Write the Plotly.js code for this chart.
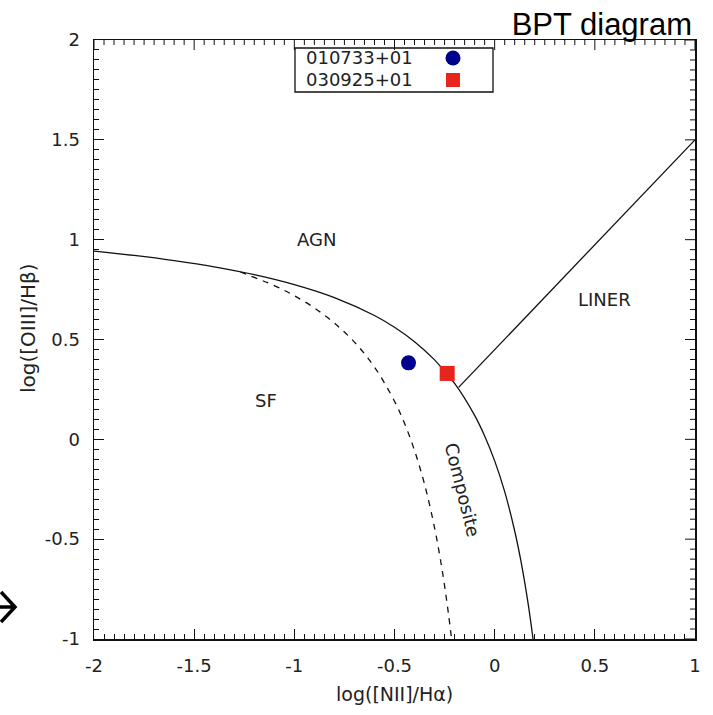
<!DOCTYPE html>
<html>
<head>
<meta charset="utf-8">
<script src="https://cdn.plot.ly/plotly-3.0.1.min.js"></script>
<style>html,body{margin:0;padding:0;background:#fff;}</style>
</head>
<body>
<div id="chart" style="width:713px;height:715px;"></div>
<script>
// ---- data ----
// Kewley-type maximum starburst line (solid)
const kewleyX = [-2.0, -1.8, -1.6, -1.4, -1.2, -1.0, -0.8, -0.6, -0.5, -0.4, -0.3, -0.2, -0.1, -0.05, 0.0, 0.05, 0.1, 0.13, 0.16, 0.18, 0.19, 0.192];
const kewleyY = [0.943, 0.921, 0.895, 0.864, 0.825, 0.775, 0.710, 0.620, 0.561, 0.489, 0.398, 0.280, 0.120, 0.017, -0.108, -0.262, -0.459, -0.604, -0.778, -0.913, -0.989, -1.004];
// Kauffmann-type line (dashed)
const kauffX = [-1.27, -1.1, -1.0, -0.9, -0.8, -0.7, -0.6, -0.5, -0.45, -0.4, -0.35, -0.3, -0.26, -0.23, -0.215];
const kauffY = [0.838, 0.770, 0.719, 0.658, 0.582, 0.487, 0.362, 0.191, 0.080, -0.056, -0.225, -0.443, -0.668, -0.879, -1.002];
// LINER / Seyfert dividing line
const linerX = [-0.18, 1.0];
const linerY = [0.26, 1.5];
// objects
const objNames = ['010733+01', '030925+01'];
const objX = [-0.43, -0.237];
const objY = [0.383, 0.33];
// region labels
const regionText = ['AGN', 'SF', 'LINER', 'Composite'];
const regionX = [-0.89, -1.14, 0.55, -0.16];
const regionY = [1.0, 0.195, 0.70, -0.25];
// ticks
const xTickVals = [-2, -1.5, -1, -0.5, 0, 0.5, 1];
const xTickText = ['-2', '-1.5', '-1', '-0.5', '0', '0.5', '1'];
const yTickVals = [-1, -0.5, 0, 0.5, 1, 1.5, 2];
const yTickText = ['-1', '-0.5', '0', '0.5', '1', '1.5', '2'];
const xRange = [-2, 1];
const yRange = [-1, 2];
const xTitle = 'log([NII]/Hα)';
const yTitle = 'log([OIII]/Hβ)';

// ---- layout geometry helpers ----
const W = 713, H = 715, ML = 94, MR = 18, MT = 40, MB = 76;
const PW = W - ML - MR, PH = H - MT - MB;
const px = v => (v - ML) / PW;         // pixel x -> paper x
const py = v => (H - MB - v) / PH;     // pixel y -> paper y

const FONT = 'DejaVu Sans';
const colors = ['#00008e', '#e8251b'];
const symbols = ['circle', 'square'];

const traces = [
  {x: kewleyX, y: kewleyY, mode: 'lines', line: {color: '#111', width: 1.3, shape: 'spline'}, showlegend: false, hoverinfo: 'skip'},
  {x: kauffX, y: kauffY, mode: 'lines', line: {color: '#111', width: 1.3, dash: '6px,6px', shape: 'spline'}, showlegend: false, hoverinfo: 'skip'},
  {x: linerX, y: linerY, mode: 'lines', line: {color: '#111', width: 1.3}, showlegend: false, hoverinfo: 'skip'}
];
objNames.forEach((n, i) => {
  traces.push({x: [objX[i]], y: [objY[i]], name: n, mode: 'markers',
    marker: {color: colors[i], size: 15, symbol: symbols[i]}, showlegend: false, cliponaxis: false});
});

const annotations = regionText.map((t, i) => ({
  x: regionX[i], y: regionY[i], xref: 'x', yref: 'y', text: t, showarrow: false,
  textangle: t === 'Composite' ? 76 : 0,
  font: {family: FONT, size: 18, color: '#222'}
}));
// axis titles
annotations.push({xref: 'paper', yref: 'paper', x: px(394), y: py(694), xanchor: 'center', yanchor: 'middle',
  text: xTitle, showarrow: false, font: {family: FONT, size: 19, color: '#222'}});
annotations.push({xref: 'paper', yref: 'paper', x: px(28), y: py(328), xanchor: 'center', yanchor: 'middle',
  text: yTitle, textangle: -90, showarrow: false, font: {family: FONT, size: 20, color: '#222'}});

// manual legend (text left, symbol right)
const legRows = [58, 80];
objNames.forEach((n, i) => {
  annotations.push({xref: 'paper', yref: 'paper', x: px(304), y: py(legRows[i]), xanchor: 'left', yanchor: 'middle',
    text: n, showarrow: false, font: {family: FONT, size: 18, color: '#222'}});
});

const shapes = [
  {type: 'rect', xref: 'paper', yref: 'paper', x0: px(295), x1: px(493), y0: py(92), y1: py(48),
   line: {color: '#111', width: 1.3}, fillcolor: '#fff', layer: 'above'},
  {type: 'circle', xref: 'paper', yref: 'paper', xsizemode: 'pixel', ysizemode: 'pixel',
   xanchor: px(453), yanchor: py(legRows[0]), x0: -7.5, x1: 7.5, y0: -7.5, y1: 7.5,
   fillcolor: colors[0], line: {width: 0}, layer: 'above'},
  {type: 'rect', xref: 'paper', yref: 'paper', xsizemode: 'pixel', ysizemode: 'pixel',
   xanchor: px(453), yanchor: py(legRows[1]), x0: -7, x1: 7, y0: -7, y1: 7,
   fillcolor: colors[1], line: {width: 0}, layer: 'above'},
  // arrow glyph cut at the left edge
  {type: 'path', xref: 'paper', yref: 'paper', layer: 'above',
   path: 'M ' + px(-5) + ' ' + py(607) + ' L ' + px(13) + ' ' + py(607) +
         ' M ' + px(1) + ' ' + py(592) + ' L ' + px(15) + ' ' + py(607) + ' L ' + px(1) + ' ' + py(622),
   line: {color: '#000', width: 3.5}}
];

// mirrored tick marks on the top and right frame edges (placed through the axis scales)
for (let i = 0; i <= 60; i++) {
  const len = (i % 10 === 0) ? 10 : 5;
  const xv = Math.round((xRange[0] + i * 0.05) * 100) / 100;
  const yv = Math.round((yRange[0] + i * 0.05) * 100) / 100;
  shapes.push({type: 'line', xref: 'x', yref: 'paper', ysizemode: 'pixel', yanchor: 1,
    x0: xv, x1: xv, y0: 0, y1: -len, line: {color: '#111', width: 1}, layer: 'above'});
  shapes.push({type: 'line', xref: 'paper', yref: 'y', xsizemode: 'pixel', xanchor: 1,
    x0: 0, x1: -len, y0: yv, y1: yv, line: {color: '#111', width: 1}, layer: 'above'});
}

const minorTicks = () => ({dtick: 0.05, ticks: 'inside', ticklen: 5, tickcolor: '#111'});

const layout = {
  width: W, height: H,
  margin: {l: ML, r: MR, t: MT, b: MB},
  title: {text: 'BPT diagram', font: {family: 'Liberation Sans', size: 31, color: '#000'},
          xref: 'container', yref: 'container', x: 692 / W, xanchor: 'right', y: 1 - 13 / H, yanchor: 'top'},
  xaxis: {
    range: xRange, showgrid: false, zeroline: false, showline: true, mirror: true, linecolor: '#111', linewidth: 1.5,
    ticks: 'inside', ticklen: 10, tickcolor: '#111', tickfont: {family: FONT, size: 18, color: '#222'},
    tickmode: 'array', tickvals: xTickVals, ticktext: xTickText, ticklabelstandoff: 10, minor: minorTicks()
  },
  yaxis: {
    range: yRange, showgrid: false, zeroline: false, showline: true, mirror: true, linecolor: '#111', linewidth: 1.5,
    ticks: 'inside', ticklen: 10, tickcolor: '#111', tickfont: {family: FONT, size: 18, color: '#222'},
    tickmode: 'array', tickvals: yTickVals, ticktext: yTickText, ticklabelstandoff: 9, minor: minorTicks()
  },
  annotations: annotations,
  shapes: shapes,
  showlegend: false
};

Plotly.newPlot('chart', traces, layout, {staticPlot: true, displayModeBar: false});
</script>
</body>
</html>
